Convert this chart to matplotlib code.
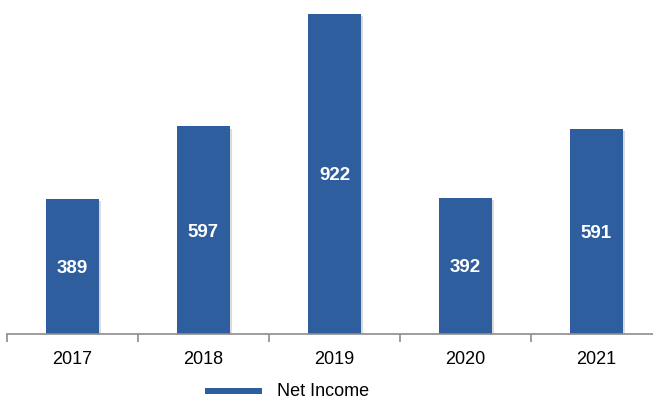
import matplotlib
matplotlib.use("Agg")
import matplotlib.pyplot as plt
import matplotlib.patheffects as pe
from matplotlib.patches import Rectangle

years = ["2017", "2018", "2019", "2020", "2021"]
net_income = [389, 597, 922, 392, 591]

BLUE = "#2E5E9E"
W, H = 653, 405

plt.rcParams["font.family"] = ["Liberation Sans", "DejaVu Sans"]

fig = plt.figure(figsize=(W / 100, H / 100), dpi=100)
# axis runs from x=7 px and is cut off at the right edge
x0, x1 = 7, 662
ybase = 334
ax = fig.add_axes([x0 / W, 1 - ybase / H, (x1 - x0) / W, ybase / H])

xs = range(len(years))
bars = ax.bar(xs, net_income, width=0.4, color=BLUE, zorder=2,
              path_effects=[pe.SimplePatchShadow(offset=(1.5, -1.5), shadow_rgbFace="#999999", alpha=0.35),
                            pe.Normal()])
for b, v in zip(bars, net_income):
    ax.text(b.get_x() + b.get_width() / 2, v / 2, str(v), ha="center", va="center_baseline",
            color="white", fontsize=13.5, fontweight="bold", zorder=3)

ax.set_xlim(-0.5, len(years) - 0.5)
ax.set_ylim(0, 922 * ybase / (ybase - 13.5))
ax.set_yticks([])
for s in ["top", "right", "left"]:
    ax.spines[s].set_visible(False)
ax.spines["bottom"].set_color("#8C8C8C")
ax.spines["bottom"].set_linewidth(1.2)

ax.set_xticks([i - 0.5 for i in range(len(years) + 1)])
ax.set_xticklabels([])
ax.set_xticks(list(xs), minor=True)
ax.set_xticklabels(years, minor=True, fontsize=13)
ax.tick_params(axis="x", which="major", direction="out", length=6, width=1.2, color="#8C8C8C")
ax.tick_params(axis="x", which="minor", length=0, pad=12)

# legend: swatch + label drawn in figure pixels
fig.patches.append(Rectangle((205 / W, 1 - 394 / H), 57 / W, 6 / H, transform=fig.transFigure,
                             facecolor=BLUE, edgecolor="none"))
fig.text(277 / W, 1 - 392 / H, "Net Income", fontsize=13, va="center", ha="left")

fig.savefig("out.png", dpi=100)
